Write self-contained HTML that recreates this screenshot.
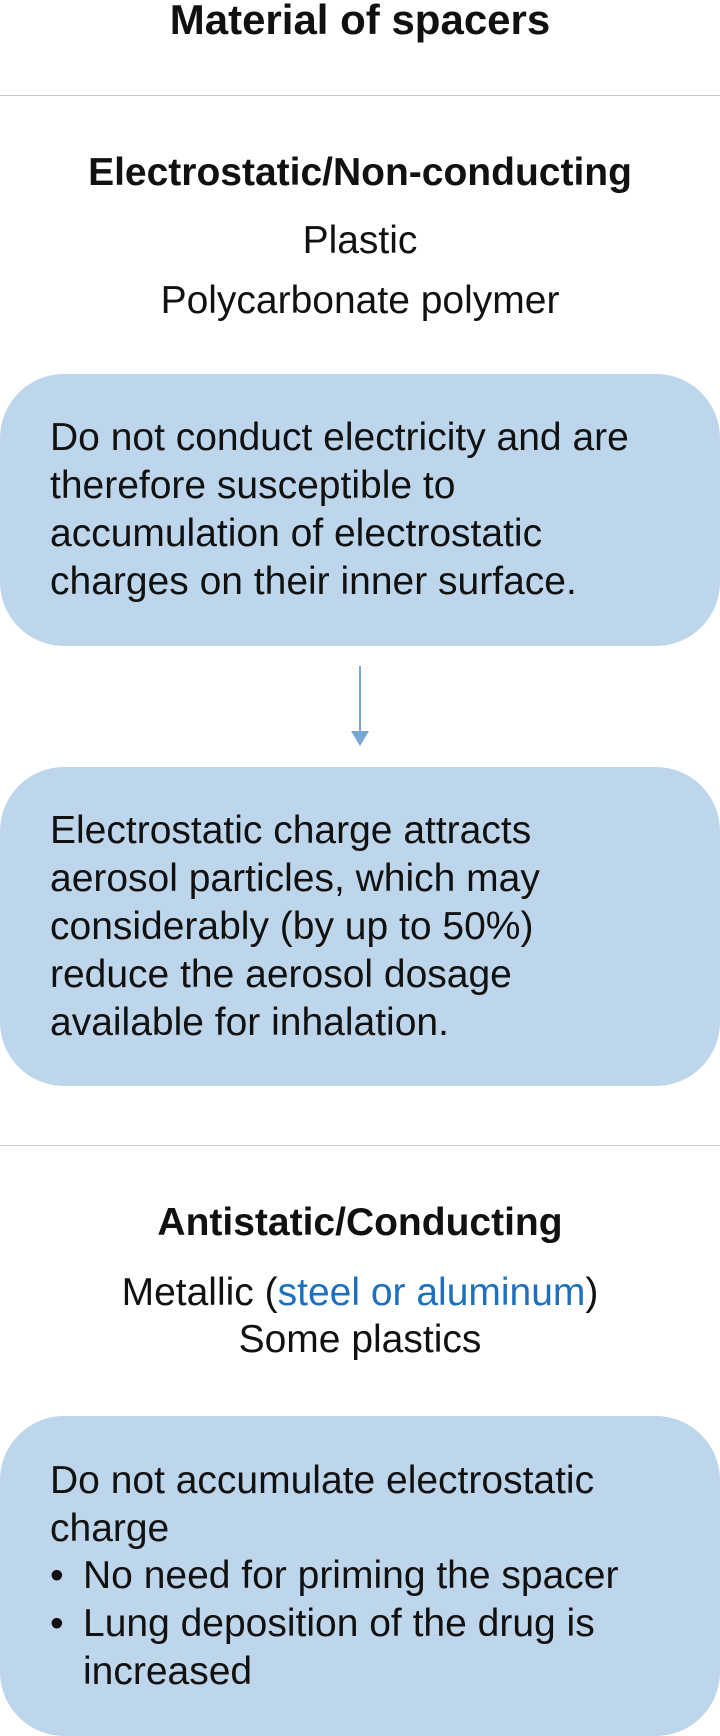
<!DOCTYPE html>
<html><head><meta charset="utf-8"><style>
body{margin:0;width:720px;height:1736px;position:relative;background:#fff;font-family:"Liberation Sans",sans-serif;color:#111;overflow:hidden}
.a{position:absolute;white-space:nowrap}
.c{left:0;width:720px;text-align:center}
.t{line-height:48px;font-size:39px}
.b{font-weight:bold}
.box{position:absolute;left:0;width:720px;background:#bed6eb;border-radius:64px}
.hr{position:absolute;left:0;width:720px;height:1px;background:#c8c8c8}
</style></head><body>
<div class="a c t b" style="top:-4px;font-size:42px">Material of spacers</div>
<div class="hr" style="top:95px"></div>
<div class="a c t b" style="top:149px;font-size:39px">Electrostatic/Non-conducting</div>
<div class="a c t" style="top:217px">Plastic</div>
<div class="a c t" style="top:277px">Polycarbonate polymer</div>

<div class="box" style="top:374px;height:272px"></div>
<div class="a t" style="left:50px;top:414px">Do not conduct electricity and are<br>therefore susceptible to<br>accumulation of electrostatic<br>charges on their inner surface.</div>

<div class="a" style="left:359px;top:666px;width:2px;height:66px;background:#7aa6d6"></div>
<div class="a" style="left:351px;top:731px;width:0;height:0;border-left:9px solid transparent;border-right:9px solid transparent;border-top:15px solid #7aa6d6"></div>

<div class="box" style="top:767px;height:319px"></div>
<div class="a t" style="left:50px;top:807px">Electrostatic charge attracts<br>aerosol particles, which may<br>considerably (by up to 50%)<br>reduce the aerosol dosage<br>available for inhalation.</div>

<div class="hr" style="top:1145px"></div>
<div class="a c t b" style="top:1199px;font-size:39px">Antistatic/Conducting</div>
<div class="a c t" style="top:1269px">Metallic (<span style="color:#1f6fbf">steel or aluminum</span>)</div>
<div class="a c t" style="top:1316px">Some plastics</div>

<div class="box" style="top:1416px;height:320px"></div>
<div class="a t" style="left:50px;top:1457px">Do not accumulate electrostatic<br>charge</div>
<div class="a t" style="left:50px;top:1552px">•</div>
<div class="a t" style="left:83px;top:1552px">No need for priming the spacer</div>
<div class="a t" style="left:50px;top:1600px">•</div>
<div class="a t" style="left:83px;top:1600px">Lung deposition of the drug is<br>increased</div>
</body></html>
